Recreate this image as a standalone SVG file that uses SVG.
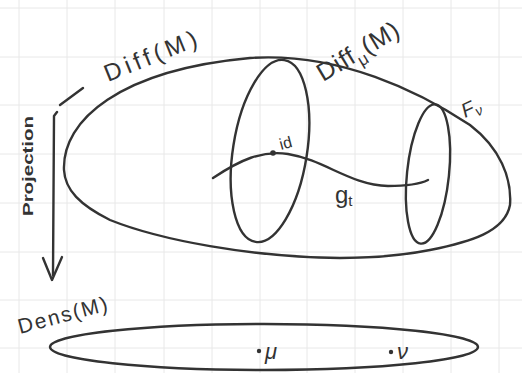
<svg xmlns="http://www.w3.org/2000/svg" width="522" height="373" viewBox="0 0 522 373">
<defs>
<style>
.ln{fill:none;stroke:#333;stroke-width:2.4;stroke-linecap:round;stroke-linejoin:round}
.gr{stroke:#e8e8e8;stroke-width:1}
.t{font-family:"Liberation Sans",Arial,sans-serif;fill:#333}
</style>
</defs>
<rect width="522" height="373" fill="#fff"/>
<g id="grid">
<path class="gr" d="M19,0V373M67,0V373M115,0V373M164,0V373M212,0V373M260,0V373M307,0V373M355,0V373M403,0V373M451,0V373M499,0V373M0,8H522M0,57H522M0,105H522M0,154H522M0,203H522M0,252H522M0,300H522M0,348H522"/>
</g>
<g id="diff-M">
<path class="ln" d="M64,170 C62,120 120,70 250,58 C340,52 420,92 470,125 C500,148 512,178 510,205 C505,232 470,242 430,250 C400,256 370,258 340,258 C250,257 160,240 110,220 C80,205 65,190 64,170 Z"/>
<text class="t" font-size="24" textLength="98" lengthAdjust="spacing" transform="translate(108,82) rotate(-22)">Diff(M)</text>
</g>
<g id="diff-mu">
<ellipse class="ln" cx="270" cy="151" rx="37" ry="92" transform="rotate(9 270 151)"/>
<text class="t" font-size="25" letter-spacing="1" transform="translate(323,82) rotate(-31)">Diff<tspan font-size="17" dy="7">μ</tspan><tspan dy="-7">(M)</tspan></text>
</g>
<g id="fiber-nu">
<ellipse class="ln" cx="428" cy="174" rx="21" ry="70" transform="rotate(6 428 174)"/>
<text class="t" font-size="20" font-style="italic" transform="translate(465,118) rotate(-25)">F<tspan font-size="14" dy="4">ν</tspan></text>
</g>
<g id="path-gt">
<path class="ln" d="M213,178 C240,160 262,150 288,154 C325,160 350,185 388,186 C408,186 422,183 428,180"/>
<circle cx="273" cy="153" r="2.8" fill="#333"/>
<text class="t" font-size="16" transform="translate(281,150) rotate(-15)">id</text>
<text class="t" font-size="24" x="335" y="203">g<tspan font-size="15" dy="3">t</tspan></text>
</g>
<g id="dens-M">
<ellipse class="ln" cx="264" cy="347" rx="214" ry="23"/>
<text class="t" font-size="21" textLength="92" lengthAdjust="spacing" transform="translate(20,334) rotate(-15)">Dens(M)</text>
<circle cx="259" cy="351" r="2.2" fill="#333"/>
<text class="t" font-size="22" font-style="italic" x="265" y="359">μ</text>
<circle cx="391" cy="352" r="2.2" fill="#333"/>
<text class="t" font-size="22" font-style="italic" x="397" y="359">ν</text>
</g>
<g id="connectors">
<path class="ln" d="M60,105 L83,88"/>
<path class="ln" d="M57,112 L54,116 L53,275"/>
<path class="ln" d="M43,258 L52,280 L62,257"/>
<text class="t" font-size="14" font-weight="bold" textLength="100" lengthAdjust="spacingAndGlyphs" transform="translate(33,216) rotate(-90)">Projection</text>
</g>
</svg>
